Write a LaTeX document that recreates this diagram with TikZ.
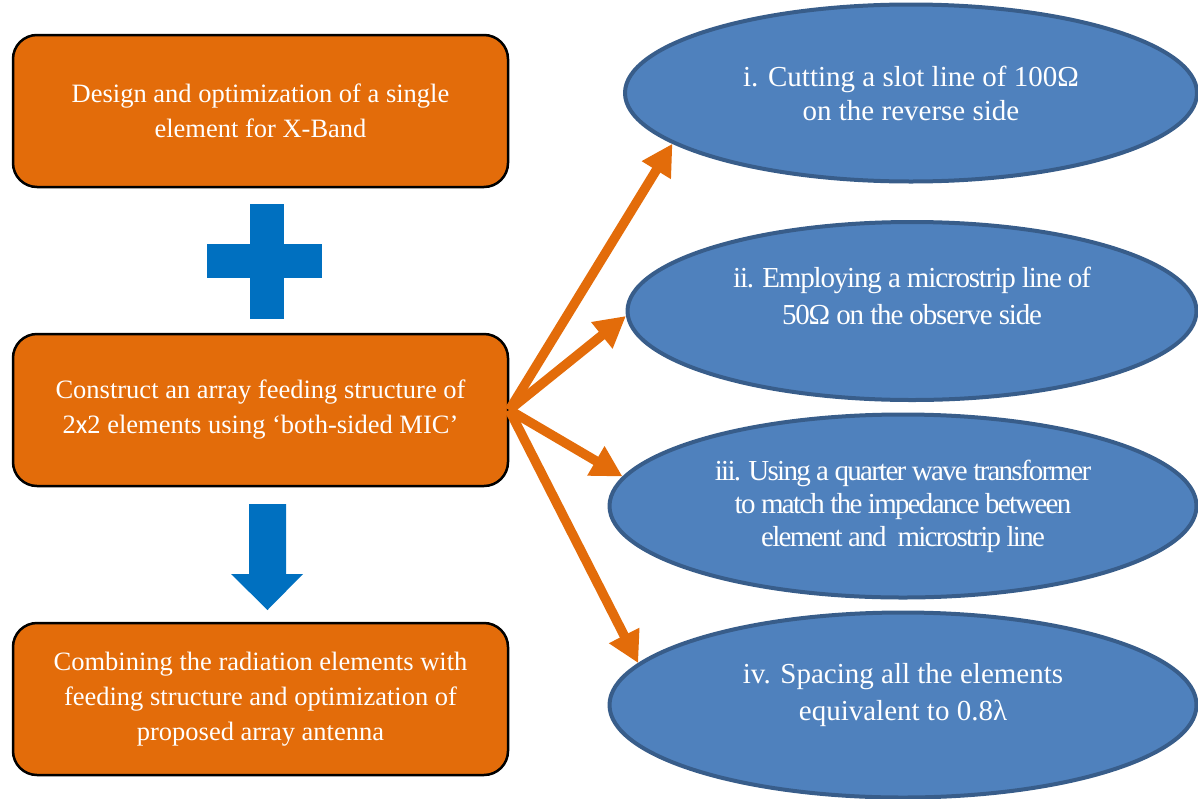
\documentclass[tikz,border=0pt]{standalone}
\usepackage{fontspec}
\setmainfont{Liberation Serif}
\newfontfamily\tightfont[LetterSpace=-4]{Liberation Serif}
\newfontfamily\tighterfont[LetterSpace=-6]{Liberation Serif}
\newfontfamily\xfont{Carlito}
\usetikzlibrary{arrows.meta,shapes.geometric,calc}
\definecolor{boxorange}{HTML}{E36C0A}
\definecolor{plusblue}{HTML}{0070C0}
\definecolor{ovalblue}{HTML}{4F81BD}
\definecolor{ovalrim}{HTML}{385D8A}

\begin{document}
\begin{tikzpicture}[x=1pt,y=-1pt,
    stage/.style={draw=black,line width=2.5pt,fill=boxorange,rounded corners=24pt,
      minimum width=495pt,minimum height=152pt,inner sep=0pt,
      text=white,align=center,font=\fontsize{26.5}{35}\selectfont},
    task/.style={ellipse,draw=ovalrim,line width=4pt,fill=ovalblue,inner sep=0pt,
      text=white,align=center,font=\fontsize{29}{34}\selectfont},
    feed/.style={draw=boxorange,line width=9.5pt,-{Triangle[length=31pt,width=32pt]}}]
    \useasboundingbox (0,0) rectangle (1198,798);
    % left column
    \node[stage] (design) at (260.5,111) {Design and optimization of a single\\element for X-Band};
    \node[stage] (feeding) at (260.5,410) {Construct an array feeding structure of\\2{\xfont x}2 elements using ‘both-sided MIC’};
    \node[stage] (combine) at (260.5,699) {Combining the radiation elements with\\feeding structure and optimization of\\proposed array antenna};
    \fill[plusblue] (250,204) rectangle (284,319);
    \fill[plusblue] (207,244) rectangle (322,278);
    \fill[plusblue] (249,504) -- (286,504) -- (286,574) -- (303,574) -- (267.5,610) -- (231,574) -- (249,574) -- cycle;
    % right column
    \node[task,minimum width=572pt,minimum height=177pt] (slot) at (911,93) {i. Cutting a slot line of 100Ω\\on the reverse side};
    \node[task,minimum width=569pt,minimum height=178pt,text depth=30pt,font=\tightfont\fontsize{29}{37}\selectfont] (strip) at (912,311) {ii. Employing a microstrip line of\\50Ω on the observe side};
    \node[task,minimum width=587pt,minimum height=183pt,font=\tighterfont\fontsize{29}{33}\selectfont] (quarter) at (903,506) {iii. Using a quarter wave transformer\\to match the impedance between\\element and\ \ microstrip line};
    \node[task,minimum width=587pt,minimum height=185pt,text depth=26pt,font=\fontsize{29}{37}\selectfont] (spacing) at (903,705) {iv. Spacing all the elements\\equivalent to 0.8λ};
    % feed arrows
    \draw[feed] (feeding.east) -- (slot.192);
    \draw[feed] (feeding.east) -- (strip.181);
    \draw[feed] (feeding.east) -- (quarter.174);
    \draw[feed] (feeding.east) -- (spacing.171);
\end{tikzpicture}
\end{document}
